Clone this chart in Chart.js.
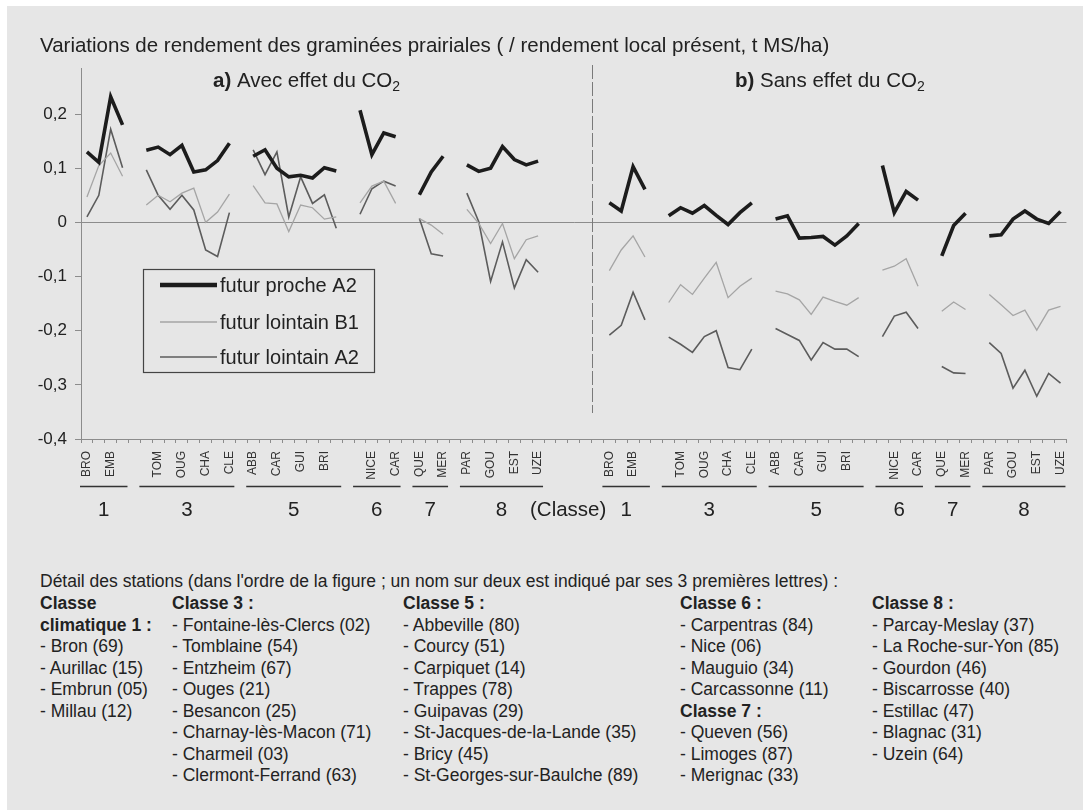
<!DOCTYPE html>
<html>
<head>
<meta charset="utf-8">
<script src="https://cdn.jsdelivr.net/npm/chart.js@4.4.0/dist/chart.umd.min.js"></script>
<style>
  body { margin: 0; background: #fff; font-family: "Liberation Sans", Arial, sans-serif; }
  #panel { position: absolute; left: 7px; top: 6px; width: 1076px; height: 804px; background: #e6e6e6; }
  #wrap { position: absolute; left: 0; top: 0; width: 1083px; height: 540px; }
  .det { position: absolute; font-size: 17.5px; color: #222; line-height: 21.5px; white-space: nowrap; }
</style>
</head>
<body>
<div id="panel"></div>
<div id="wrap"><canvas id="chart" width="1083" height="540"></canvas></div>

<div class="det" style="left:40px;top:571px">Détail des stations (dans l'ordre de la figure ; un nom sur deux est indiqué par ses 3 premières lettres) :</div>
<div class="det" style="left:40px;top:593px"><b>Classe</b><br><b>climatique 1 :</b><br>- Bron (69)<br>- Aurillac (15)<br>- Embrun (05)<br>- Millau (12)</div>
<div class="det" style="left:172px;top:593px"><b>Classe 3 :</b><br>- Fontaine-lès-Clercs (02)<br>- Tomblaine (54)<br>- Entzheim (67)<br>- Ouges (21)<br>- Besancon (25)<br>- Charnay-lès-Macon (71)<br>- Charmeil (03)<br>- Clermont-Ferrand (63)</div>
<div class="det" style="left:403px;top:593px"><b>Classe 5 :</b><br>- Abbeville (80)<br>- Courcy (51)<br>- Carpiquet (14)<br>- Trappes (78)<br>- Guipavas (29)<br>- St-Jacques-de-la-Lande (35)<br>- Bricy (45)<br>- St-Georges-sur-Baulche (89)</div>
<div class="det" style="left:680px;top:593px"><b>Classe 6 :</b><br>- Carpentras (84)<br>- Nice (06)<br>- Mauguio (34)<br>- Carcassonne (11)<br><b>Classe 7 :</b><br>- Queven (56)<br>- Limoges (87)<br>- Merignac (33)</div>
<div class="det" style="left:872px;top:593px"><b>Classe 8 :</b><br>- Parcay-Meslay (37)<br>- La Roche-sur-Yon (85)<br>- Gourdon (46)<br>- Biscarrosse (40)<br>- Estillac (47)<br>- Blagnac (31)<br>- Uzein (64)</div>

<script>
// climate classes and the stations shown (one name out of two)
const classNames = ['1', '3', '5', '6', '7', '8'];
const stationLabels = [
  ['BRO', '', 'EMB', ''],
  ['', 'TOM', '', 'OUG', '', 'CHA', '', 'CLE'],
  ['ABB', '', 'CAR', '', 'GUI', '', 'BRI', ''],
  ['', 'NICE', '', 'CAR'],
  ['QUE', '', 'MER'],
  ['PAR', '', 'GOU', '', 'EST', '', 'UZE']
];

// a) avec effet du CO2
const procheA2Avec = [
  [0.130, 0.111, 0.232, 0.180],
  [0.133, 0.139, 0.125, 0.142, 0.093, 0.097, 0.114, 0.146],
  [0.122, 0.134, 0.100, 0.084, 0.087, 0.082, 0.101, 0.095],
  [0.207, 0.125, 0.165, 0.158],
  [0.051, 0.093, 0.122],
  [0.106, 0.094, 0.100, 0.140, 0.116, 0.106, 0.113]
];
const lointainB1Avec = [
  [0.047, 0.105, 0.128, 0.085],
  [0.032, 0.050, 0.038, 0.054, 0.063, 0.000, 0.019, 0.052],
  [0.068, 0.036, 0.034, -0.017, 0.032, 0.027, 0.006, 0.010],
  [0.036, 0.067, 0.076, 0.035],
  [0.007, -0.005, -0.022],
  [0.024, -0.002, -0.039, -0.002, -0.067, -0.032, -0.025]
];
const lointainA2Avec = [
  [0.010, 0.050, 0.172, 0.101],
  [0.097, 0.050, 0.024, 0.050, 0.023, -0.051, -0.063, 0.018],
  [0.134, 0.088, 0.130, 0.010, 0.084, 0.035, 0.051, -0.011],
  [0.015, 0.062, 0.076, 0.067],
  [0.007, -0.058, -0.062],
  [0.054, 0.001, -0.109, -0.036, -0.121, -0.069, -0.092]
];

// b) sans effet du CO2
const procheA2Sans = [
  [0.036, 0.021, 0.103, 0.061],
  [0.012, 0.027, 0.017, 0.031, 0.013, -0.004, 0.018, 0.036],
  [0.006, 0.012, -0.029, -0.028, -0.026, -0.042, -0.025, -0.002],
  [0.105, 0.018, 0.057, 0.041],
  [-0.062, -0.006, 0.017],
  [-0.025, -0.023, 0.006, 0.021, 0.006, -0.002, 0.020]
];
const lointainB1Sans = [
  [-0.089, -0.051, -0.025, -0.064],
  [-0.148, -0.115, -0.133, -0.103, -0.074, -0.139, -0.118, -0.103],
  [-0.127, -0.132, -0.143, -0.170, -0.138, -0.146, -0.153, -0.139],
  [-0.088, -0.081, -0.067, -0.118],
  [-0.164, -0.147, -0.161],
  [-0.133, -0.152, -0.172, -0.162, -0.199, -0.162, -0.155]
];
const lointainA2Sans = [
  [-0.208, -0.190, -0.129, -0.180],
  [-0.212, -0.225, -0.240, -0.211, -0.200, -0.268, -0.272, -0.234],
  [-0.196, -0.207, -0.218, -0.254, -0.222, -0.234, -0.234, -0.248],
  [-0.211, -0.173, -0.166, -0.196],
  [-0.266, -0.278, -0.279],
  [-0.222, -0.242, -0.306, -0.273, -0.321, -0.279, -0.297]
];

const yTicks = [-0.4, -0.3, -0.2, -0.1, 0, 0.1, 0.2];
const seriesNames = ['futur proche A2', 'futur lointain B1', 'futur lointain A2'];
const seriesColors = ['#1c1c1c', '#a5a5a5', '#5c5c5c'];
const seriesWidths = [3.6, 1.3, 1.6];

const FONT = '"Liberation Sans", Arial, sans-serif';
const PANEL_GAP = 5;

// build the category slots: one empty slot between classes, a few between panels
const labels = [];
const groups = [];
const series = [[], [], []];

function pushSlot(lab, vals) {
  labels.push(lab);
  series.forEach((s, k) => s.push(vals ? vals[k] : null));
}

function addPanel(proche, b1, a2) {
  classNames.forEach((name, c) => {
    if (c > 0) pushSlot('', null);
    const first = labels.length;
    stationLabels[c].forEach((lab, i) => pushSlot(lab, [proche[c][i], b1[c][i], a2[c][i]]));
    groups.push({ name: name, first: first, last: labels.length - 1 });
  });
}

addPanel(procheA2Avec, lointainB1Avec, lointainA2Avec);
const endA = labels.length - 1;
for (let i = 0; i < PANEL_GAP; i++) pushSlot('', null);
addPanel(procheA2Sans, lointainB1Sans, lointainA2Sans);
const dividerSlot = endA + PANEL_GAP - 0.5;

const decor = {
  id: 'decor',
  afterDraw(chart) {
    const ctx = chart.ctx;
    const x = chart.scales.x;
    ctx.save();
    ctx.fillStyle = '#222';
    ctx.textBaseline = 'middle';
    ctx.textAlign = 'left';

    ctx.font = '20.5px ' + FONT;
    ctx.fillText('Variations de rendement des graminées prairiales ( / rendement local présent, t MS/ha)', 40, 46);

    function panelTitle(tag, txt, px, py) {
      ctx.font = 'bold 20.5px ' + FONT;
      ctx.fillText(tag, px, py);
      let cx = px + ctx.measureText(tag).width;
      ctx.font = '20.5px ' + FONT;
      ctx.fillText(txt, cx, py);
      cx += ctx.measureText(txt).width;
      ctx.font = '14px ' + FONT;
      ctx.fillText('2', cx, py + 6);
    }
    panelTitle('a)', ' Avec effet du CO', 213, 81);
    panelTitle('b)', ' Sans effet du CO', 735, 81);

    // separation between the two panels
    const xd = Math.round(x.getPixelForValue(dividerSlot)) + 0.5;
    ctx.strokeStyle = '#7a7a7a';
    ctx.lineWidth = 1;
    ctx.setLineDash([14, 3]);
    ctx.beginPath();
    ctx.moveTo(xd, 65);
    ctx.lineTo(xd, 413);
    ctx.stroke();
    ctx.setLineDash([]);

    // class underlines and numbers
    ctx.strokeStyle = '#333';
    ctx.lineWidth = 1.5;
    ctx.textAlign = 'center';
    ctx.font = '20.5px ' + FONT;
    groups.forEach(g => {
      const x0 = x.getPixelForValue(g.first - 0.5) - 1;
      const x1 = x.getPixelForValue(g.last + 0.5) - 1;
      ctx.beginPath();
      ctx.moveTo(x0, 486.5);
      ctx.lineTo(x1, 486.5);
      ctx.stroke();
      ctx.fillText(g.name, (x0 + x1) / 2, 510);
    });
    ctx.textAlign = 'left';
    ctx.fillText('(Classe)', 530, 510);

    // legend box
    ctx.strokeStyle = '#444';
    ctx.lineWidth = 1.2;
    ctx.strokeRect(143.5, 269.5, 231, 103);
    const rows = [285, 322, 357];
    rows.forEach((ry, k) => {
      ctx.strokeStyle = seriesColors[k];
      ctx.lineWidth = k === 0 ? 4.5 : seriesWidths[k];
      ctx.beginPath();
      ctx.moveTo(160, ry);
      ctx.lineTo(217, ry);
      ctx.stroke();
      ctx.fillStyle = '#222';
      ctx.font = '20px ' + FONT;
      ctx.fillText(seriesNames[k], 220, ry + 1);
    });
    ctx.restore();
  }
};

new Chart(document.getElementById('chart'), {
  type: 'line',
  data: {
    labels: labels,
    datasets: series.map((s, k) => ({
      label: seriesNames[k],
      data: s,
      borderColor: seriesColors[k],
      borderWidth: seriesWidths[k],
      pointRadius: 0,
      spanGaps: false,
      tension: 0,
      fill: false
    }))
  },
  options: {
    responsive: false,
    animation: false,
    layout: { padding: { top: 68, right: 15, left: 0, bottom: 0 } },
    plugins: { legend: { display: false }, tooltip: { enabled: false } },
    scales: {
      x: {
        offset: true,
        grid: { offset: true, drawOnChartArea: false, tickLength: 4, color: '#8c8c8c' },
        border: { color: '#8c8c8c' },
        ticks: {
          autoSkip: false, minRotation: 90, maxRotation: 90, padding: 8,
          color: '#333', font: { size: 12, family: FONT }
        },
        afterFit: s => { s.height = 101; }
      },
      y: {
        min: -0.4,
        max: 0.285,
        afterBuildTicks: s => { s.ticks = yTicks.map(v => ({ value: v })); },
        grid: {
          color: c => (c.tick && c.tick.value === 0 ? '#8c8c8c' : 'rgba(0,0,0,0)'),
          tickColor: '#8c8c8c',
          tickLength: 6
        },
        border: { color: '#8c8c8c' },
        ticks: {
          padding: 8,
          color: '#222',
          font: { size: 17, family: FONT },
          callback: v => String(v).replace('.', ',')
        },
        afterFit: s => { s.width = 81; }
      }
    }
  },
  plugins: [decor]
});
</script>
</body>
</html>
